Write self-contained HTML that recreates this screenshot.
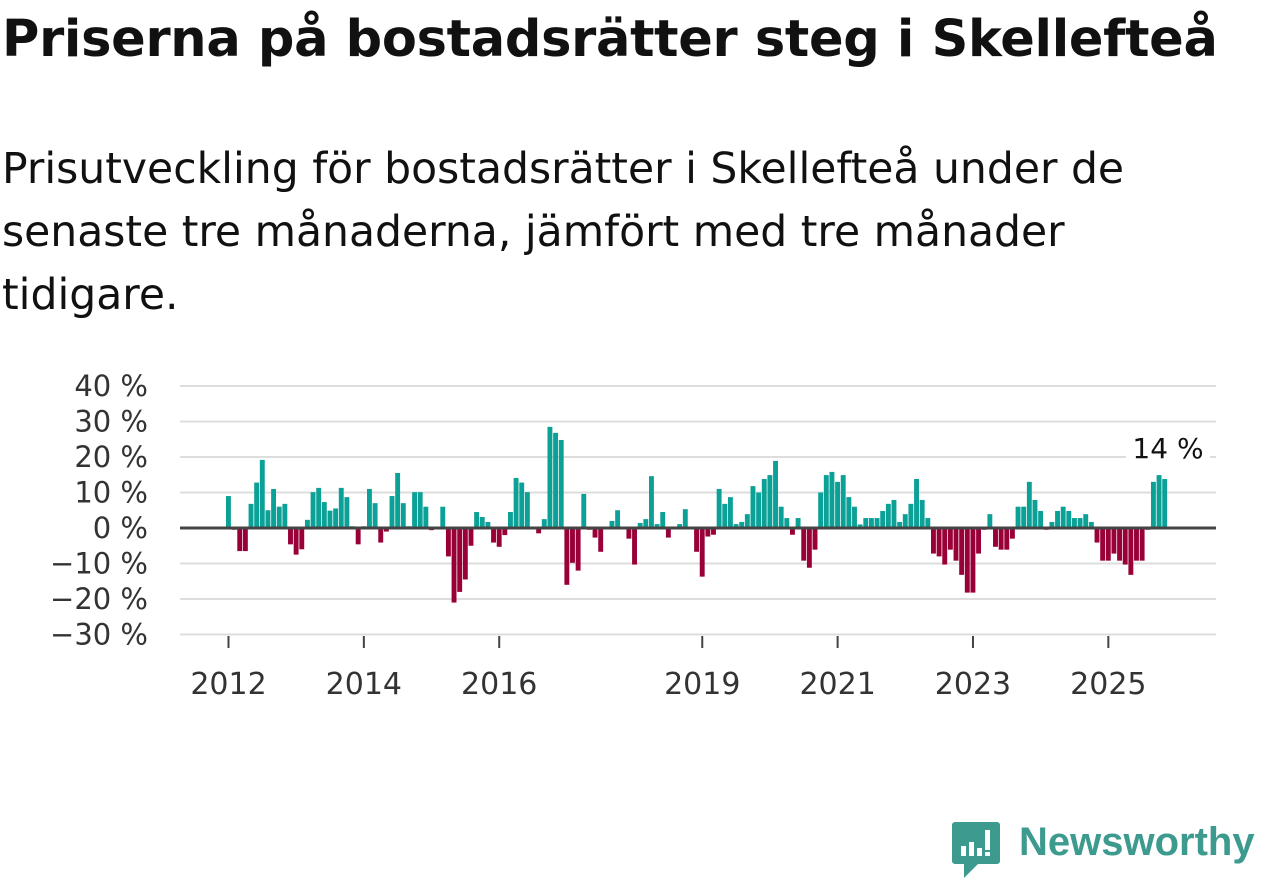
<!DOCTYPE html>
<html><head><meta charset="utf-8">
<style>
body{margin:0;width:1262px;height:879px;background:#fff;font-family:"DejaVu Sans",sans-serif;overflow:hidden;position:relative;color:#111}
#title{position:absolute;left:2px;top:10px;font-size:51px;font-weight:bold;margin:0;white-space:nowrap;color:#111;font-family:"DejaVu Sans",sans-serif;letter-spacing:-0.3px}
#sub{position:absolute;left:2px;top:138px;font-size:42.5px;line-height:63px;width:1250px;color:#111;white-space:nowrap;font-family:"DejaVu Sans",sans-serif}
svg{position:absolute;left:0;top:0}
</style></head><body>
<h1 id="title">Priserna på bostadsrätter steg i Skellefteå</h1>
<div id="sub">Prisutveckling för bostadsrätter i Skellefteå under de<br>senaste tre månaderna, jämfört med tre månader<br>tidigare.</div>
<svg id="chart" width="1262" height="879"></svg>
<div style="position:absolute;left:952px;top:820px;">
<svg width="50" height="60" style="position:absolute;left:0;top:0"><path d="M3 2h42a3 3 0 0 1 3 3v36a3 3 0 0 1-3 3H26l-14 14v-14H3a3 3 0 0 1-3-3V5a3 3 0 0 1 3-3z" fill="#3d9a8e"/><rect x="9" y="26" width="5" height="10" fill="#fff"/><rect x="17" y="22" width="5" height="14" fill="#fff"/><rect x="25" y="28" width="5" height="8" fill="#fff"/><rect x="33" y="10" width="5" height="20" fill="#fff"/><rect x="33" y="32" width="5" height="4" fill="#fff"/></svg>
<span style="position:absolute;left:67px;top:0px;font-size:40px;font-weight:bold;color:#3d9a8e;font-family:'Liberation Sans',sans-serif">Newsworthy</span>
</div>
<script>
const values=[9,-0.5,-6.5,-6.5,6.8,12.8,19.2,5,11,6,6.8,-4.6,-7.5,-6,2.3,10.1,11.3,7.3,4.9,5.5,11.3,8.7,0.5,-4.6,0.5,11,7,-4.1,-1,9,15.5,7,0.5,10.1,10.1,6,-0.6,null,6,-8,-21,-18,-14.5,-5,4.5,3.1,1.7,-4.1,-5.3,-2,4.5,14.1,12.8,10.1,null,-1.5,2.5,28.5,26.8,24.8,-16,-9.8,-12,9.6,-0.5,-2.7,-6.7,null,2,5,null,-3,-10.3,1.4,2.5,14.6,1.1,4.5,-2.7,null,1.1,5.3,null,-6.7,-13.7,-2.4,-1.9,11,6.8,8.7,1.1,1.7,3.9,11.8,10,13.8,14.9,18.9,6,2.8,-1.9,2.8,-9.2,-11.2,-6.1,10,14.9,15.8,13,14.9,8.7,6,1,2.8,2.8,2.8,4.8,6.8,7.9,1.7,3.9,6.8,13.8,7.9,2.8,-7.2,-8,-10.3,-6.1,-9.2,-13.2,-18.2,-18.2,-7.2,-0.5,3.9,-5.3,-6.1,-6.1,-3,6,6,13,7.9,4.8,-0.5,1.7,4.8,6,4.8,2.8,2.8,3.9,1.7,-4.1,-9.2,-9.2,-7.2,-9.2,-10.3,-13.2,-9.2,-9.2,-0.5,13,14.9,13.8];
const yTicks=[40,30,20,10,0,-10,-20,-30];
const yearLabels=["2012","2014","2016","2019","2021","2023","2025"];
const yearMonths=[0,24,48,84,108,132,156];
const NS="http://www.w3.org/2000/svg";
const svg=document.getElementById('chart');
function xs(m){return 226+5.64*m;}
function ys(v){return 528-v*3.55;}
function mk(tag,attrs,parent){const e=document.createElementNS(NS,tag);for(const k in attrs)e.setAttribute(k,attrs[k]);(parent||svg).appendChild(e);return e;}
yTicks.forEach(t=>{
  const l=mk('line',{x1:180,x2:1216,y1:ys(t),y2:ys(t),stroke:'#ddd','stroke-width':2});
  
  
  const tx=mk('text',{x:148,y:ys(t)+10,'text-anchor':'end','font-size':29,fill:'#333','font-family':'DejaVu Sans, sans-serif'});
  tx.textContent=(t<0?'\u2212'+(-t):t)+' %';
  
  
});
values.forEach((v,i)=>{
  if(v===null)return;
  const y0=ys(0),y1=ys(v);
  const r=mk('rect',{x:xs(i),y:Math.min(y0,y1),width:4.9,height:Math.abs(y1-y0),fill:v>=0?'#0ca197':'#990038'});
  
  
});
const z=mk('line',{x1:180,x2:1216,y1:ys(0),y2:ys(0),stroke:'#444','stroke-width':3});


yearLabels.forEach((lab,i)=>{
  const x=xs(yearMonths[i])+2.5;
  const tk=mk('line',{x1:x,x2:x,y1:636,y2:648,stroke:'#444','stroke-width':2});
  
  
  const t=mk('text',{x:x,y:694,'text-anchor':'middle','font-size':30,fill:'#333','font-family':'DejaVu Sans, sans-serif'});
  t.textContent=lab;
  
  
});
const last=values[values.length-1];
const bg=mk('rect',{x:1126,y:432,width:84,height:32,fill:'#fff'});


const lv=mk('text',{x:1168,y:458,'text-anchor':'middle','font-size':28,fill:'#111','font-family':'DejaVu Sans, sans-serif'});
lv.textContent=Math.round(last)+' %';


</script>
</body></html>
